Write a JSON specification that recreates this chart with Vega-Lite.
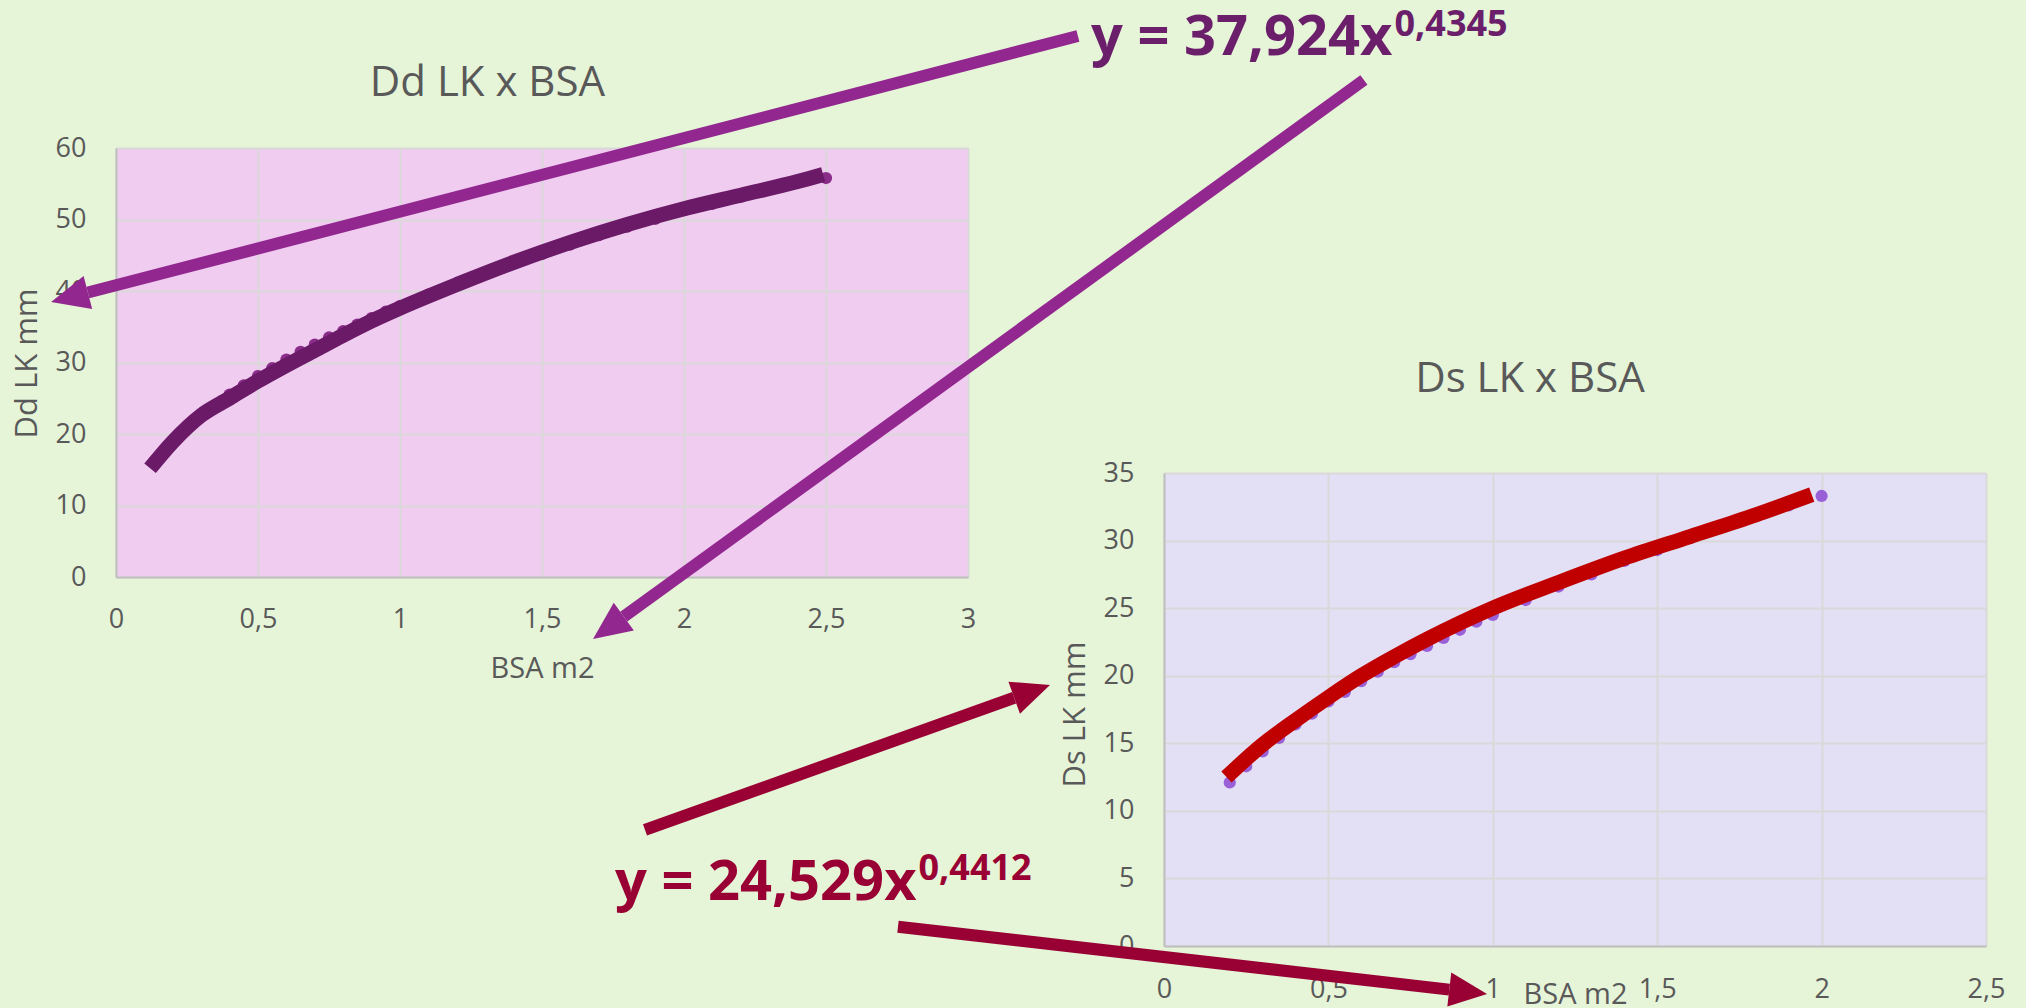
{
  "$schema": "https://vega.github.io/schema/vega-lite/v6.json",
  "width": 2026,
  "height": 1008,
  "autosize": {"type": "none"},
  "padding": 0,
  "background": "#E6F4D8",
  "config": {"view": {"stroke": null}, "font": "Open Sans"},
  "datasets": {
    "ddPts": [
      {"bsa": 0.15, "mm": 16.6}, {"bsa": 0.2, "mm": 18.8}, {"bsa": 0.25, "mm": 20.8}, {"bsa": 0.3, "mm": 22.5},
      {"bsa": 0.35, "mm": 24.0}, {"bsa": 0.4, "mm": 25.5}, {"bsa": 0.45, "mm": 26.8}, {"bsa": 0.5, "mm": 28.1},
      {"bsa": 0.55, "mm": 29.2}, {"bsa": 0.6, "mm": 30.4}, {"bsa": 0.65, "mm": 31.5}, {"bsa": 0.7, "mm": 32.5},
      {"bsa": 0.75, "mm": 33.5}, {"bsa": 0.8, "mm": 34.4}, {"bsa": 0.85, "mm": 35.3}, {"bsa": 0.9, "mm": 36.2},
      {"bsa": 0.95, "mm": 37.1}, {"bsa": 1.0, "mm": 37.9}, {"bsa": 1.1, "mm": 39.5}, {"bsa": 1.2, "mm": 41.0},
      {"bsa": 1.3, "mm": 42.5}, {"bsa": 1.4, "mm": 43.9}, {"bsa": 1.5, "mm": 45.2}, {"bsa": 1.6, "mm": 46.5},
      {"bsa": 1.7, "mm": 47.8}, {"bsa": 1.8, "mm": 49.0}, {"bsa": 1.9, "mm": 50.1}, {"bsa": 2.0, "mm": 51.3},
      {"bsa": 2.1, "mm": 52.2}, {"bsa": 2.2, "mm": 53.2}, {"bsa": 2.5, "mm": 55.8}
    ],
    "ddFit": [
      {"bsa": 0.12, "mm": 15.2}, {"bsa": 0.2, "mm": 18.9}, {"bsa": 0.3, "mm": 22.6}, {"bsa": 0.4, "mm": 25.0},
      {"bsa": 0.5, "mm": 27.4}, {"bsa": 0.6, "mm": 29.6}, {"bsa": 0.7, "mm": 31.7}, {"bsa": 0.8, "mm": 33.8},
      {"bsa": 0.9, "mm": 35.8}, {"bsa": 1.0, "mm": 37.6}, {"bsa": 1.2, "mm": 40.9}, {"bsa": 1.4, "mm": 44.0},
      {"bsa": 1.6, "mm": 46.8}, {"bsa": 1.8, "mm": 49.3}, {"bsa": 2.0, "mm": 51.5}, {"bsa": 2.2, "mm": 53.4},
      {"bsa": 2.4, "mm": 55.3}, {"bsa": 2.49, "mm": 56.3}
    ],
    "ddArrows": [
      {"id": "a1", "bsa": 3.387, "mm": 75.66, "bsa2": -0.099, "mm2": 39.79},
      {"id": "a2", "bsa": 4.394, "mm": 69.51, "bsa2": 1.788, "mm2": -5.55}
    ],
    "ddText": [
      {"role": "title", "text": "Dd LK x BSA", "bsa": 1.308, "mm": 67.27},
      {"role": "eq", "text": "y = 37,924x", "bsa": 4.4947, "mm": 73.0},
      {"role": "exp", "text": "0,4345", "bsa": 4.4947, "mm": 75.6}
    ],
    "dsPts": [
      {"bsa": 0.2, "mm": 12.1}, {"bsa": 0.25, "mm": 13.3}, {"bsa": 0.3, "mm": 14.4}, {"bsa": 0.35, "mm": 15.4},
      {"bsa": 0.4, "mm": 16.4}, {"bsa": 0.45, "mm": 17.2}, {"bsa": 0.5, "mm": 18.1}, {"bsa": 0.55, "mm": 18.8},
      {"bsa": 0.6, "mm": 19.6}, {"bsa": 0.65, "mm": 20.3}, {"bsa": 0.7, "mm": 21.0}, {"bsa": 0.75, "mm": 21.6},
      {"bsa": 0.8, "mm": 22.2}, {"bsa": 0.85, "mm": 22.8}, {"bsa": 0.9, "mm": 23.4}, {"bsa": 0.95, "mm": 24.0},
      {"bsa": 1.0, "mm": 24.5}, {"bsa": 1.1, "mm": 25.6}, {"bsa": 1.2, "mm": 26.6}, {"bsa": 1.3, "mm": 27.5},
      {"bsa": 1.4, "mm": 28.5}, {"bsa": 1.5, "mm": 29.3}, {"bsa": 1.6, "mm": 30.2}, {"bsa": 1.7, "mm": 31.0},
      {"bsa": 1.8, "mm": 31.8}, {"bsa": 1.9, "mm": 32.6}, {"bsa": 2.0, "mm": 33.3}
    ],
    "dsFit": [
      {"bsa": 0.19, "mm": 12.5}, {"bsa": 0.3, "mm": 14.9}, {"bsa": 0.4, "mm": 16.7}, {"bsa": 0.5, "mm": 18.4},
      {"bsa": 0.6, "mm": 20.0}, {"bsa": 0.7, "mm": 21.4}, {"bsa": 0.8, "mm": 22.7}, {"bsa": 0.9, "mm": 23.9},
      {"bsa": 1.0, "mm": 25.0}, {"bsa": 1.2, "mm": 26.9}, {"bsa": 1.4, "mm": 28.7}, {"bsa": 1.6, "mm": 30.3},
      {"bsa": 1.8, "mm": 31.9}, {"bsa": 1.97, "mm": 33.4}
    ],
    "dsArrows": [
      {"id": "a3", "bsa": -1.5785, "mm": 8.586, "bsa2": -0.4556, "mm2": 18.37},
      {"id": "a4", "bsa": -0.809, "mm": 1.43, "bsa2": 0.8677, "mm2": -3.227}
    ],
    "dsText": [
      {"role": "title", "text": "Ds LK x BSA", "bsa": 1.113, "mm": 41.01},
      {"role": "eq", "text": "y = 24,529x", "bsa": -0.7527, "mm": 3.405},
      {"role": "exp", "text": "0,4412", "bsa": -0.7527, "mm": 4.885}
    ]
  },
  "layer": [
    {
      "encoding": {
        "x": {"field": "bsa", "type": "quantitative", "scale": {"domain": [0, 3], "range": [116, 968], "nice": false, "zero": false}, "axis": null},
        "y": {"field": "mm", "type": "quantitative", "scale": {"domain": [0, 60], "range": [577, 148], "nice": false, "zero": false}, "axis": null}
      },
      "layer": [
        {
          "data": {"name": "ddPts"},
          "mark": {"type": "circle", "size": 150, "color": "#8A2D8A", "opacity": 1},
          "encoding": {
            "x": {"field": "bsa", "type": "quantitative", "scale": {"domain": [0, 3], "range": [116, 968], "nice": false, "zero": false},
              "axis": {"orient": "top", "values": [1.5], "grid": true, "gridColor": "#F0CCF0", "gridWidth": 852, "gridCap": "butt", "gridOpacity": 1, "domain": false, "ticks": false, "labels": false, "title": null}},
            "y": {"field": "mm", "type": "quantitative", "scale": {"domain": [0, 60], "range": [577, 148], "nice": false, "zero": false},
              "axis": {"orient": "left", "offset": -116, "values": [0, 10, 20, 30, 40, 50, 60], "grid": true, "gridColor": "#D9D9D9", "gridWidth": 2, "domain": true, "domainColor": "#BFBFBF", "domainWidth": 2, "ticks": false, "tickSize": 0, "labelPadding": 30, "labelAlign": "right", "labelBaseline": "middle", "labelFont": "Open Sans", "labelFontSize": 27, "labelColor": "#595959", "labelFlush": false, "labelOverlap": false, "title": "Dd LK mm", "titleX": -89, "titleY": 363, "titleAngle": 270, "titleAlign": "center", "titleBaseline": "middle", "titleFont": "Open Sans", "titleFontSize": 31, "titleFontWeight": "normal", "titleColor": "#595959"}}
          }
        },
        {
          "data": {"name": "ddFit"},
          "mark": {"type": "line", "color": "#6A1A66", "strokeWidth": 15, "strokeCap": "butt", "interpolate": "monotone"},
          "encoding": {
            "x": {"field": "bsa", "type": "quantitative", "scale": {"domain": [0, 3], "range": [116, 968], "nice": false, "zero": false},
              "axis": {"orient": "top", "offset": -577, "values": [0, 0.5, 1, 1.5, 2, 2.5, 3], "labelExpr": "replace(toString(datum.value), '.', ',')", "grid": true, "gridColor": "#D9D9D9", "gridWidth": 2, "domain": true, "domainColor": "#BFBFBF", "domainWidth": 2, "ticks": false, "tickSize": 0, "labelPadding": -50, "labelBaseline": "alphabetic", "labelAlign": "center", "labelFont": "Open Sans", "labelFontSize": 27, "labelColor": "#595959", "labelFlush": false, "labelOverlap": false, "title": "BSA m2", "titleX": 542, "titleY": 100, "titleAngle": 0, "titleAlign": "center", "titleBaseline": "alphabetic", "titleFont": "Open Sans", "titleFontSize": 29, "titleFontWeight": "normal", "titleColor": "#595959"}}
          }
        },
        {
          "data": {"name": "ddArrows"},
          "mark": {"type": "rule", "color": "#92278F", "strokeWidth": 12, "strokeCap": "butt"},
          "encoding": {"x2": {"field": "bsa2"}, "y2": {"field": "mm2"}}
        },
        {
          "data": {"name": "ddArrows"},
          "transform": [{"filter": "datum.id === 'a1'"}],
          "mark": {"type": "point", "shape": "M0,-2L0.9,0L-0.9,0Z", "size": 1444, "filled": true, "color": "#92278F", "opacity": 1, "angle": 255.5},
          "encoding": {"x": {"field": "bsa2", "type": "quantitative", "axis": null}, "y": {"field": "mm2", "type": "quantitative", "axis": null}}
        },
        {
          "data": {"name": "ddArrows"},
          "transform": [{"filter": "datum.id === 'a2'"}],
          "mark": {"type": "point", "shape": "M0,-2L0.9,0L-0.9,0Z", "size": 1444, "filled": true, "color": "#92278F", "opacity": 1, "angle": 234.06},
          "encoding": {"x": {"field": "bsa2", "type": "quantitative", "axis": null}, "y": {"field": "mm2", "type": "quantitative", "axis": null}}
        },
        {
          "data": {"name": "ddText"},
          "transform": [{"filter": "datum.role === 'title'"}],
          "mark": {"type": "text", "font": "Open Sans", "fontSize": 42, "color": "#595959", "align": "center", "baseline": "alphabetic"},
          "encoding": {"text": {"field": "text"}}
        },
        {
          "data": {"name": "ddText"},
          "transform": [{"filter": "datum.role === 'eq'"}],
          "mark": {"type": "text", "font": "Open Sans", "fontSize": 56, "fontWeight": "bold", "color": "#6B1F6B", "align": "right", "baseline": "alphabetic"},
          "encoding": {"text": {"field": "text"}}
        },
        {
          "data": {"name": "ddText"},
          "transform": [{"filter": "datum.role === 'exp'"}],
          "mark": {"type": "text", "font": "Open Sans", "fontSize": 36, "fontWeight": "bold", "color": "#6B1F6B", "align": "left", "baseline": "alphabetic", "dx": 2},
          "encoding": {"text": {"field": "text"}}
        }
      ],
      "resolve": {"axis": {"x": "independent", "y": "independent"}}
    },
    {
      "encoding": {
        "x": {"field": "bsa", "type": "quantitative", "scale": {"domain": [0, 2.5], "range": [1164, 1986], "nice": false, "zero": false}, "axis": null},
        "y": {"field": "mm", "type": "quantitative", "scale": {"domain": [0, 35], "range": [946, 473], "nice": false, "zero": false}, "axis": null}
      },
      "layer": [
        {
          "data": {"name": "dsPts"},
          "mark": {"type": "circle", "size": 150, "color": "#9A60D8", "opacity": 1},
          "encoding": {
            "x": {"field": "bsa", "type": "quantitative", "scale": {"domain": [0, 2.5], "range": [1164, 1986], "nice": false, "zero": false},
              "axis": {"orient": "top", "values": [1.25], "grid": true, "gridColor": "#E3DFF5", "gridWidth": 822, "gridCap": "butt", "gridOpacity": 1, "domain": false, "ticks": false, "labels": false, "title": null}},
            "y": {"field": "mm", "type": "quantitative", "scale": {"domain": [0, 35], "range": [946, 473], "nice": false, "zero": false},
              "axis": {"orient": "left", "offset": -1164, "values": [0, 5, 10, 15, 20, 25, 30, 35], "grid": true, "gridColor": "#D9D9D9", "gridWidth": 2, "domain": true, "domainColor": "#BFBFBF", "domainWidth": 2, "ticks": false, "tickSize": 0, "labelPadding": 30, "labelAlign": "right", "labelBaseline": "middle", "labelFont": "Open Sans", "labelFontSize": 27, "labelColor": "#595959", "labelFlush": false, "labelOverlap": false, "title": "Ds LK mm", "titleX": -89, "titleY": 714, "titleAngle": 270, "titleAlign": "center", "titleBaseline": "middle", "titleFont": "Open Sans", "titleFontSize": 31, "titleFontWeight": "normal", "titleColor": "#595959"}}
          }
        },
        {
          "data": {"name": "dsFit"},
          "mark": {"type": "line", "color": "#C00000", "strokeWidth": 15, "strokeCap": "butt", "interpolate": "monotone"},
          "encoding": {
            "x": {"field": "bsa", "type": "quantitative", "scale": {"domain": [0, 2.5], "range": [1164, 1986], "nice": false, "zero": false},
              "axis": {"orient": "top", "offset": -946, "values": [0, 0.5, 1, 1.5, 2, 2.5], "labelExpr": "replace(toString(datum.value), '.', ',')", "grid": true, "gridColor": "#D9D9D9", "gridWidth": 2, "domain": true, "domainColor": "#BFBFBF", "domainWidth": 2, "ticks": false, "tickSize": 0, "labelPadding": -51, "labelBaseline": "alphabetic", "labelAlign": "center", "labelFont": "Open Sans", "labelFontSize": 27, "labelColor": "#595959", "labelFlush": false, "labelOverlap": false, "title": "BSA m2", "titleX": 1575, "titleY": 57, "titleAngle": 0, "titleAlign": "center", "titleBaseline": "alphabetic", "titleFont": "Open Sans", "titleFontSize": 29, "titleFontWeight": "normal", "titleColor": "#595959"}}
          }
        },
        {
          "data": {"name": "dsArrows"},
          "mark": {"type": "rule", "color": "#990033", "strokeWidth": 12, "strokeCap": "butt"},
          "encoding": {"x2": {"field": "bsa2"}, "y2": {"field": "mm2"}}
        },
        {
          "data": {"name": "dsArrows"},
          "transform": [{"filter": "datum.id === 'a3'"}],
          "mark": {"type": "point", "shape": "M0,-2L0.9,0L-0.9,0Z", "size": 1444, "filled": true, "color": "#990033", "opacity": 1, "angle": 70.3},
          "encoding": {"x": {"field": "bsa2", "type": "quantitative", "axis": null}, "y": {"field": "mm2", "type": "quantitative", "axis": null}}
        },
        {
          "data": {"name": "dsArrows"},
          "transform": [{"filter": "datum.id === 'a4'"}],
          "mark": {"type": "point", "shape": "M0,-2L0.9,0L-0.9,0Z", "size": 1444, "filled": true, "color": "#990033", "opacity": 1, "angle": 96.59},
          "encoding": {"x": {"field": "bsa2", "type": "quantitative", "axis": null}, "y": {"field": "mm2", "type": "quantitative", "axis": null}}
        },
        {
          "data": {"name": "dsText"},
          "transform": [{"filter": "datum.role === 'title'"}],
          "mark": {"type": "text", "font": "Open Sans", "fontSize": 42, "color": "#595959", "align": "center", "baseline": "alphabetic"},
          "encoding": {"text": {"field": "text"}}
        },
        {
          "data": {"name": "dsText"},
          "transform": [{"filter": "datum.role === 'eq'"}],
          "mark": {"type": "text", "font": "Open Sans", "fontSize": 56, "fontWeight": "bold", "color": "#990033", "align": "right", "baseline": "alphabetic"},
          "encoding": {"text": {"field": "text"}}
        },
        {
          "data": {"name": "dsText"},
          "transform": [{"filter": "datum.role === 'exp'"}],
          "mark": {"type": "text", "font": "Open Sans", "fontSize": 36, "fontWeight": "bold", "color": "#990033", "align": "left", "baseline": "alphabetic", "dx": 2},
          "encoding": {"text": {"field": "text"}}
        }
      ],
      "resolve": {"axis": {"x": "independent", "y": "independent"}}
    }
  ],
  "resolve": {"scale": {"x": "independent", "y": "independent"}}
}
